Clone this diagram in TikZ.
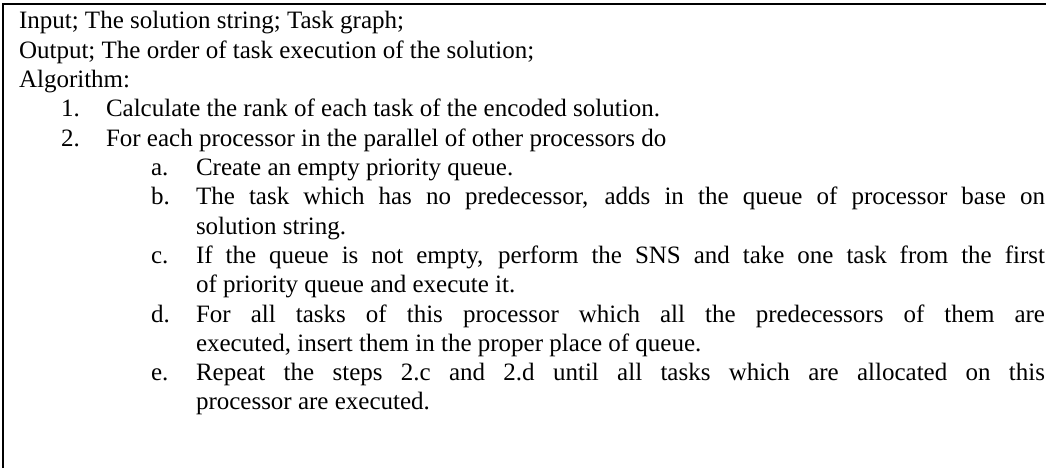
\documentclass[tikz,border=0pt]{standalone}
\usepackage{fontspec}
\setmainfont{Liberation Serif}
\begin{document}
\begin{tikzpicture}[x=1pt,y=-1pt,
  txt/.style={anchor=base west,inner sep=0pt,outer sep=0pt,font=\fontsize{25}{29}\selectfont},
  frame/.style={line width=2pt}]
\useasboundingbox (0,0) rectangle (1056,468);
% open frame: left and top edges only
\draw[frame] (3,468) -- (3,4) -- (1046,4);
% header
\node[txt] (in)  at (19,29)   {Input; The solution string; Task graph;};
\node[txt] (out) at (19,58.3) {Output; The order of task execution of the solution;};
\node[txt] (alg) at (19,87.6) {Algorithm:};
% numbered steps
\node[txt] (n1) at (61,116.9) {1.};
\node[txt] (s1) at (106,116.9) {Calculate the rank of each task of the encoded solution.};
\node[txt] (n2) at (61,146.2) {2.};
\node[txt] (s2) at (106,146.2) {For each processor in the parallel of other processors do};
% sub-steps
\node[txt] (la) at (151,175.5) {a.};
\node[txt] (sa) at (196,175.5) {Create an empty priority queue.};
\node[txt] (lb) at (151,204.8) {b.};
\node[txt] (sb) at (196,204.8) {\makebox[849pt][s]{The task which has no predecessor, adds in the queue of processor base on}};
\node[txt] (sb2) at (196,234.1) {solution string.};
\node[txt] (lc) at (151,263.4) {c.};
\node[txt] (sc) at (196,263.4) {\makebox[849pt][s]{If the queue is not empty, perform the SNS and take one task from the first}};
\node[txt] (sc2) at (196,292.7) {of priority queue and execute it.};
\node[txt] (ld) at (151,322) {d.};
\node[txt] (sd) at (196,322) {\makebox[849pt][s]{For all tasks of this processor which all the predecessors of them are}};
\node[txt] (sd2) at (196,351.3) {executed, insert them in the proper place of queue.};
\node[txt] (le) at (151,380.6) {e.};
\node[txt] (se) at (196,380.6) {\makebox[849pt][s]{Repeat the steps 2.c and 2.d until all tasks which are allocated on this}};
\node[txt] (se2) at (196,409.9) {processor are executed.};
\end{tikzpicture}
\end{document}
